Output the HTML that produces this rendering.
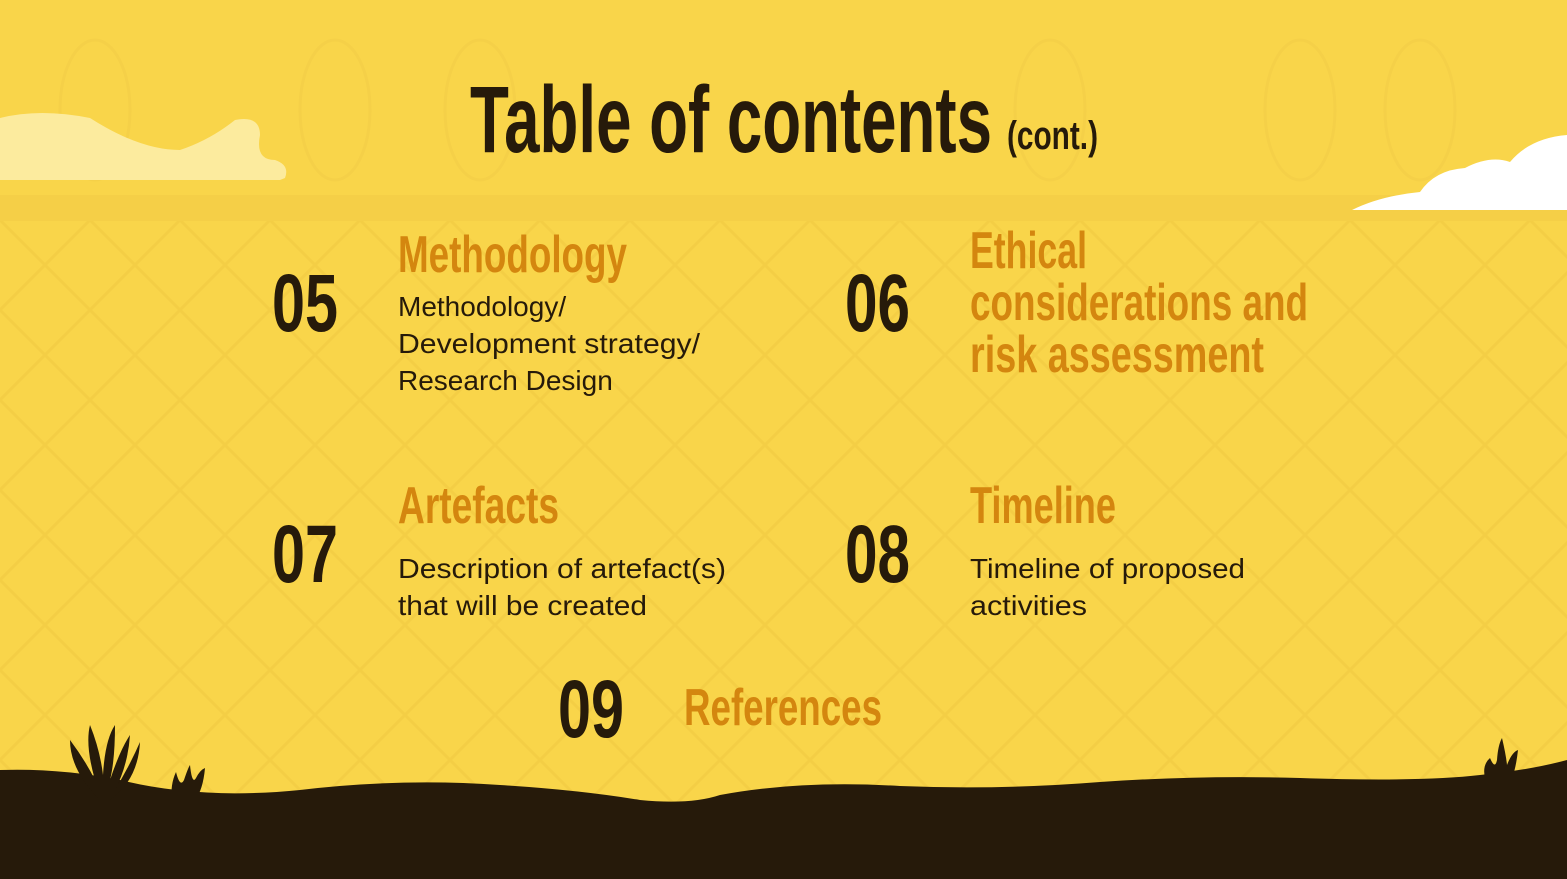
<!DOCTYPE html>
<html><head><meta charset="utf-8"><style>
html,body{margin:0;padding:0;background:#F9D54A;}
svg{display:block}
.t{font-family:"Liberation Sans",sans-serif;font-weight:bold;fill:#261A0A}
.h{font-family:"Liberation Sans",sans-serif;font-weight:bold;fill:#D4860F}
.b{font-family:"Liberation Sans",sans-serif;fill:#261A0A;font-size:28px}
</style></head><body>
<svg width="1567" height="879" viewBox="0 0 1567 879">
<defs>
<pattern id="lat" width="90" height="90" patternUnits="userSpaceOnUse" x="0" y="220">
<path d="M0 0L90 90M90 0L0 90" stroke="#F4CE45" stroke-width="3" fill="none"/>
</pattern>
</defs>
<rect width="1567" height="879" fill="#F9D54A"/>
<rect x="0" y="220" width="1567" height="600" fill="url(#lat)"/>
<rect x="0" y="195" width="1567" height="26" fill="#F5CF47"/>
<g stroke="#F5D048" stroke-width="3" fill="none">
<ellipse cx="95" cy="110" rx="35" ry="70"/><ellipse cx="335" cy="110" rx="35" ry="70"/><ellipse cx="480" cy="110" rx="35" ry="70"/><ellipse cx="1050" cy="110" rx="35" ry="70"/><ellipse cx="1300" cy="110" rx="35" ry="70"/><ellipse cx="1420" cy="110" rx="35" ry="70"/>
</g>
<path d="M0 180 L0 118 Q40 108 90 118 Q140 150 180 150 Q210 140 235 120 Q260 115 260 135 Q255 160 275 160 Q290 165 285 178 L280 180 Z" fill="#FCEB9E"/>
<path d="M1352 210 Q1380 196 1420 192 Q1435 170 1465 168 Q1490 155 1510 162 Q1530 138 1567 135 L1567 210 Z" fill="#FFFFFF"/>
<text class="t" x="470" y="152" font-size="95" textLength="522" lengthAdjust="spacingAndGlyphs">Table of contents</text>
<text class="t" x="1007" y="149" font-size="40" textLength="91" lengthAdjust="spacingAndGlyphs">(cont.)</text>

<text class="t" x="272" y="331" font-size="82" textLength="66" lengthAdjust="spacingAndGlyphs">05</text>
<text class="h" x="398" y="272" font-size="52" textLength="229" lengthAdjust="spacingAndGlyphs">Methodology</text>
<text class="b" x="398" y="316">Methodology/</text>
<text class="b" x="398" y="353" textLength="302" lengthAdjust="spacingAndGlyphs">Development strategy/</text>
<text class="b" x="398" y="390">Research Design</text>

<text class="t" x="845" y="331" font-size="82" textLength="65" lengthAdjust="spacingAndGlyphs">06</text>
<text class="h" x="970" y="268" font-size="52" textLength="117" lengthAdjust="spacingAndGlyphs">Ethical</text>
<text class="h" x="970" y="320" font-size="52" textLength="338" lengthAdjust="spacingAndGlyphs">considerations and</text>
<text class="h" x="970" y="372" font-size="52" textLength="294" lengthAdjust="spacingAndGlyphs">risk assessment</text>

<text class="t" x="272" y="582" font-size="82" textLength="66" lengthAdjust="spacingAndGlyphs">07</text>
<text class="h" x="398" y="523" font-size="52" textLength="161" lengthAdjust="spacingAndGlyphs">Artefacts</text>
<text class="b" x="398" y="578" textLength="328" lengthAdjust="spacingAndGlyphs">Description of artefact(s)</text>
<text class="b" x="398" y="615" textLength="249" lengthAdjust="spacingAndGlyphs">that will be created</text>

<text class="t" x="845" y="582" font-size="82" textLength="65" lengthAdjust="spacingAndGlyphs">08</text>
<text class="h" x="970" y="523" font-size="52" textLength="146" lengthAdjust="spacingAndGlyphs">Timeline</text>
<text class="b" x="970" y="578" textLength="275" lengthAdjust="spacingAndGlyphs">Timeline of proposed</text>
<text class="b" x="970" y="615" textLength="117" lengthAdjust="spacingAndGlyphs">activities</text>

<text class="t" x="558" y="737" font-size="82" textLength="66" lengthAdjust="spacingAndGlyphs">09</text>
<text class="h" x="684" y="725" font-size="52" textLength="198" lengthAdjust="spacingAndGlyphs">References</text>

<path d="M0 770 Q60 768 120 780 Q200 800 300 790 Q400 778 500 785 Q580 790 640 800 Q690 805 720 795 Q800 780 900 786 Q1000 790 1100 782 Q1200 775 1300 778 Q1420 782 1480 775 Q1530 770 1567 760 L1567 879 L0 879 Z" fill="#261A0A"/>
<g fill="#261A0A">
<path d="M100 800 Q70 770 70 740 Q85 760 95 780 Q85 745 90 725 Q100 750 103 775 Q105 740 115 725 Q115 760 110 780 Q120 750 130 735 Q128 765 115 790 Q130 765 140 742 Q138 780 110 800 Z"/>
<path d="M172 800 Q170 785 176 772 Q180 788 184 780 Q188 768 190 765 Q192 785 196 778 Q200 770 205 768 Q203 790 195 800 Z"/>
</g>
<path d="M1485 778 Q1482 765 1490 758 Q1495 770 1497 760 Q1498 745 1502 738 Q1506 755 1507 765 Q1512 752 1518 750 Q1516 768 1512 778 Z" fill="#261A0A"/>
</svg>
</body></html>
